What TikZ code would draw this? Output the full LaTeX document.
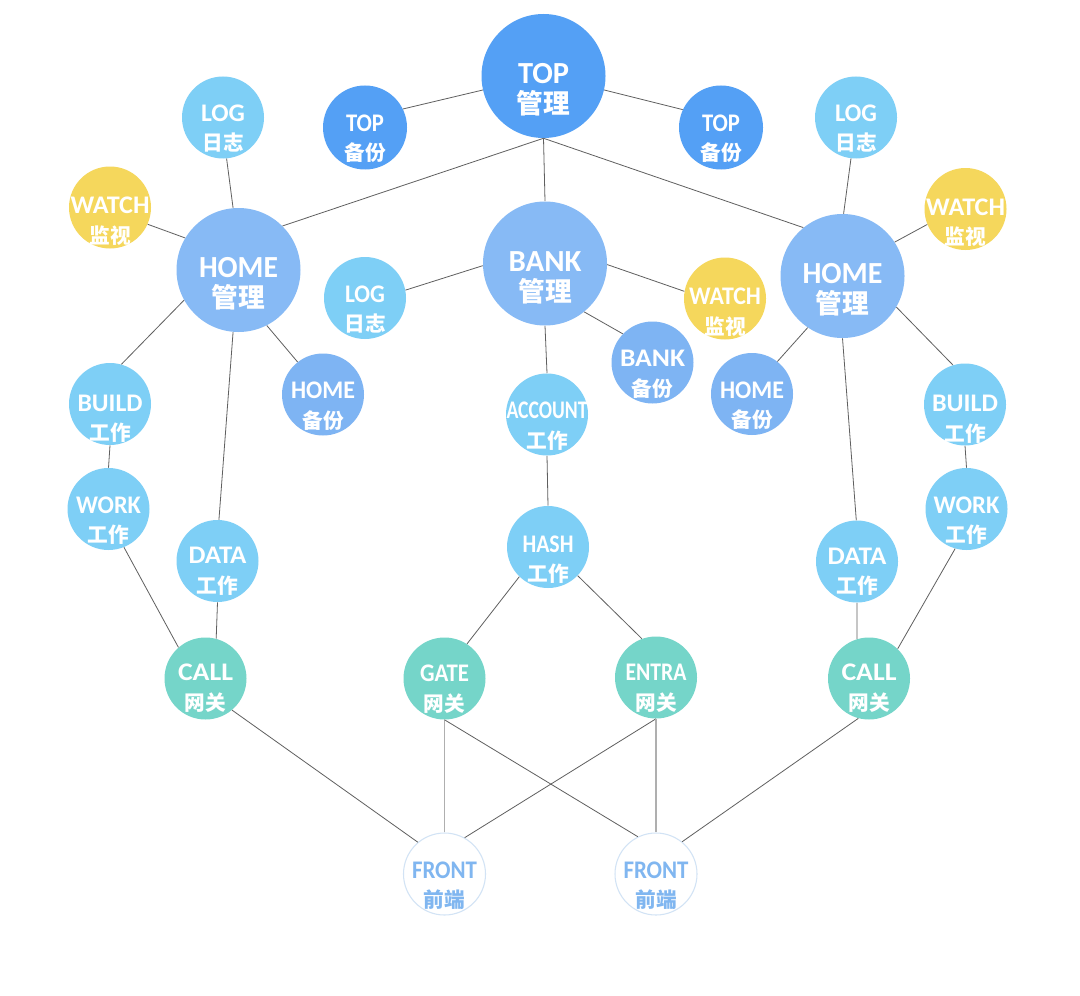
\documentclass[tikz,border=0pt]{standalone}
\usepackage{fontspec}
\usepackage{graphicx}
\newfontfamily\latf{Carlito}
\newfontfamily\cjkf{Noto Sans CJK SC}
\newdimen\px \px=0.75pt
\definecolor{ctop}{RGB}{84,160,245}
\definecolor{cmgr}{RGB}{135,186,245}
\definecolor{cbak}{RGB}{126,180,243}
\definecolor{clight}{RGB}{126,207,246}
\definecolor{cwatch}{RGB}{245,215,92}
\definecolor{cteal}{RGB}{117,213,201}
\definecolor{cfront}{RGB}{128,182,240}
\definecolor{cfrontbd}{RGB}{210,227,245}
\definecolor{cline}{RGB}{95,95,95}
\definecolor{clinel}{RGB}{175,175,175}
% small node text: [latin drop px]{latin width px}{latin}{cjk}
\newcommand\st[4][4]{%
  \raisebox{-#1\px}[0pt][0pt]{\makebox[0pt]{\latf\bfseries\fontsize{19}{19}\selectfont\resizebox{#2\px}{\height}{#3}}}%
  \raisebox{\dimexpr-#1\px-29.5\px\relax}[0pt][0pt]{\makebox[0pt]{\cjkf\bfseries\fontsize{15.5}{15.5}\selectfont #4}}}
% big node text: {latin width px}{latin}{cjk}
\newcommand\bt[3]{%
  \raisebox{-7.5\px}[0pt][0pt]{\makebox[0pt]{\latf\bfseries\fontsize{23}{23}\selectfont\resizebox{#1\px}{\height}{#2}}}%
  \raisebox{-37.5\px}[0pt][0pt]{\makebox[0pt]{\cjkf\bfseries\fontsize{20}{20}\selectfont #3}}}
\tikzset{
  bigc/.style={circle, inner sep=0pt, minimum size=93pt, text=white},
  smc/.style={circle, inner sep=0pt, minimum size=61.5pt, text=white},
  frontc/.style={circle, inner sep=0pt, minimum size=61.5pt, fill=white, draw=cfrontbd, line width=0.8pt, text=cfront},
  ln/.style={draw=cline, line width=0.6pt},
  lnl/.style={draw=clinel, line width=0.8pt}
}
\begin{document}
\begin{tikzpicture}[x=0.75pt, y=-0.75pt]
\fill[white] (0,0) rectangle (1080,995);
\useasboundingbox (0,0) rectangle (1080,995);
% top level
\node[bigc, fill=ctop] (top) at (543.5,76) {\bt{51}{TOP}{管理}};
\node[smc, fill=ctop, minimum size=63pt] (topbL) at (365,127.5) {\st{38}{TOP}{备份}};
\node[smc, fill=ctop, minimum size=63pt] (topbR) at (721,127.5) {\st{38}{TOP}{备份}};
% managers
\node[bigc, fill=cmgr] (homeL) at (238.5,270) {\bt{79}{HOME}{管理}};
\node[bigc, fill=cmgr] (bank) at (545,263.5) {\bt{73}{BANK}{管理}};
\node[bigc, fill=cmgr] (homeR) at (842.5,276) {\bt{80}{HOME}{管理}};
% logs
\node[smc, fill=clight] (logL) at (223,117.5) {\st{44}{LOG}{日志}};
\node[smc, fill=clight] (logR) at (856,117.5) {\st{42}{LOG}{日志}};
\node[smc, fill=clight] (logM) at (365,298) {\st{40}{LOG}{日志}};
% watches
\node[smc, fill=cwatch] (watchL) at (110,207.5) {\st[6]{79}{WATCH}{监视}};
\node[smc, fill=cwatch] (watchR) at (965.5,209) {\st[6]{79}{WATCH}{监视}};
\node[smc, fill=cwatch] (watchM) at (725,298.5) {\st[6]{72}{WATCH}{监视}};
% backups
\node[smc, fill=cbak] (bankb) at (652.5,362.5) {\st{65}{BANK}{备份}};
\node[smc, fill=cbak] (homebL) at (323,394.5) {\st{64}{HOME}{备份}};
\node[smc, fill=cbak] (homebR) at (752,394) {\st{64}{HOME}{备份}};
% workers
\node[smc, fill=clight] (account) at (547,414.5) {\st{81}{ACCOUNT}{工作}};
\node[smc, fill=clight] (hash) at (548,547) {\st[5]{51}{HASH}{工作}};
\node[smc, fill=clight] (buildL) at (110,404) {\st[7]{65}{BUILD}{工作}};
\node[smc, fill=clight] (buildR) at (965,404.5) {\st[7]{66}{BUILD}{工作}};
\node[smc, fill=clight] (workL) at (108.5,509) {\st{65}{WORK}{工作}};
\node[smc, fill=clight] (workR) at (966.5,509) {\st{66}{WORK}{工作}};
\node[smc, fill=clight] (dataL) at (217.5,561) {\st[2.5]{58}{DATA}{工作}};
\node[smc, fill=clight] (dataR) at (857,561.5) {\st[2.5]{59}{DATA}{工作}};
% gateways
\node[smc, fill=cteal] (callL) at (205.5,678.5) {\st[2]{55}{CALL}{网关}};
\node[smc, fill=cteal] (gate) at (444.5,678.5) {\st[3]{49}{GATE}{网关}};
\node[smc, fill=cteal] (entra) at (656,677.5) {\st[3]{61}{ENTRA}{网关}};
\node[smc, fill=cteal] (callR) at (869,678.5) {\st[2]{55}{CALL}{网关}};
% fronts
\node[frontc] (frontL) at (444.5,874) {\st{65}{FRONT}{前端}};
\node[frontc] (frontR) at (656,874) {\st{65}{FRONT}{前端}};
% connectors
\draw[ln] (top.193) -- (topbL.26);
\draw[ln] (top.347) -- (topbR.155);
\draw[ln] (top.south) -- (homeL.45);
\draw[ln] (top.south) -- (bank.north);
\draw[ln] (top.south) -- (homeR.129);
\draw[ln] (logL.275) -- (homeL.95);
\draw[ln] (watchL.336) -- (homeL.149);
\draw[ln] (homeL.209) -- (buildL.74);
\draw[ln] (homeL.265) -- (dataL.88);
\draw[ln] (homeL.297) -- (homebL.128);
\draw[ln] (buildL.south) -- (workL.north);
\draw[ln] (workL.292) -- (callL.131);
\draw[ln] (dataL.south) -- (callL.75);
\draw[ln] (bank.182) -- (logM.11);
\draw[ln] (bank.359) -- (watchM.170);
\draw[ln] (bank.309) -- (bankb.136);
\draw[ln] (bank.south) -- (account.north);
\draw[ln] (account.south) -- (hash.north);
\draw[ln] (hash.226) -- (gate.57);
\draw[ln] (hash.316) -- (entra.110);
\draw[ln] (homeR.89) -- (logR.263);
\draw[ln] (homeR.33) -- (watchR.202);
\draw[ln] (homeR.236) -- (homebR.52);
\draw[ln] (homeR.330) -- (buildR.107);
\draw[ln] (homeR.270) -- (dataR.91);
\draw[ln] (buildR.south) -- (workR.north);
\draw[ln] (workR.254) -- (callR.46);
\draw[ln] (dataR.south) -- (callR.107);
\draw[ln] (callR.255) -- (frontR.51);
\draw[ln] (callL.310) -- (frontL.130);
\draw[lnl] (gate.south) -- (frontL.north);
\draw[ln] (gate.south) -- (frontR.116);
\draw[ln] (entra.south) -- (frontL.61);
\draw[lnl] (entra.south) -- (frontR.north);
\end{tikzpicture}
\end{document}
